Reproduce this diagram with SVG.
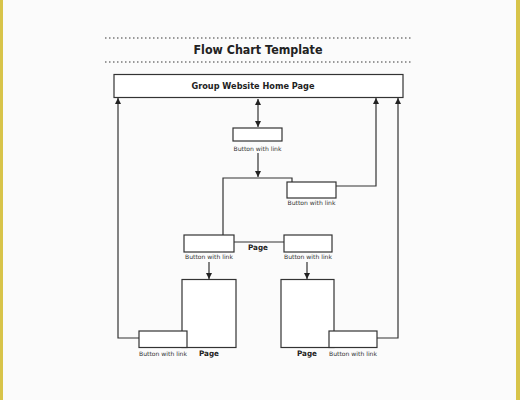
<svg xmlns="http://www.w3.org/2000/svg" width="520" height="400" viewBox="0 0 520 400">
<defs>
<marker id="ah" markerUnits="userSpaceOnUse" markerWidth="6" markerHeight="6" refX="6" refY="3" orient="auto-start-reverse"><path d="M0,0 L6,3 L0,6 z" fill="#222"/></marker>
<style>
.box{fill:#fff;stroke:#333;stroke-width:1.2}
.ln{fill:none;stroke:#333;stroke-width:1.2}
.dot{stroke:#999;stroke-width:2;stroke-dasharray:1.5 2.5}
.t{font-family:"DejaVu Sans","Liberation Sans",sans-serif;font-weight:bold;fill:#222;text-anchor:middle}
.s{font-family:"DejaVu Sans","Liberation Sans",sans-serif;font-size:6px;fill:#333;text-anchor:middle}
</style>
</defs>
<rect x="0" y="0" width="520" height="400" fill="#fbfbfb"/>
<rect x="0" y="0" width="3" height="400" fill="#d8c44a"/>
<rect x="516" y="0" width="4" height="400" fill="#d8c44a"/>
<g id="title">
<line class="dot" x1="105" y1="38" x2="413" y2="38"/>
<line class="dot" x1="105" y1="62" x2="413" y2="62"/>
<text class="t" x="258" y="54" font-size="13" textLength="129" lengthAdjust="spacingAndGlyphs">Flow Chart Template</text>
</g>
<g id="connectors">
<line class="ln" x1="258" y1="99" x2="258" y2="127" marker-start="url(#ah)" marker-end="url(#ah)"/>
<line class="ln" x1="258" y1="153" x2="258" y2="177" marker-end="url(#ah)"/>
<path class="ln" d="M223,235 V178 H292 V182"/>
<path class="ln" d="M336,186 H376 V98" marker-end="url(#ah)"/>
<line class="ln" x1="234" y1="242" x2="284" y2="242"/>
<line class="ln" x1="209" y1="262" x2="209" y2="279" marker-end="url(#ah)"/>
<line class="ln" x1="307" y1="262" x2="307" y2="279" marker-end="url(#ah)"/>
<path class="ln" d="M139,338 H118 V98" marker-end="url(#ah)"/>
<path class="ln" d="M377,338 H398 V98" marker-end="url(#ah)"/>
</g>
<g id="home">
<rect class="box" x="114" y="74.5" width="289" height="23"/>
<text class="t" x="253" y="89" font-size="8.5" textLength="123" lengthAdjust="spacingAndGlyphs">Group Website Home Page</text>
</g>
<g id="button1">
<rect class="box" x="233" y="128" width="49" height="13"/>
<text class="s" x="257.5" y="151" textLength="48" lengthAdjust="spacingAndGlyphs">Button with link</text>
</g>
<g id="button2">
<rect class="box" x="287" y="182" width="49" height="16"/>
<text class="s" x="311.5" y="205" textLength="48" lengthAdjust="spacingAndGlyphs">Button with link</text>
</g>
<g id="button3">
<rect class="box" x="184" y="235" width="50" height="17"/>
<text class="s" x="209" y="259" textLength="48" lengthAdjust="spacingAndGlyphs">Button with link</text>
</g>
<g id="page-mid">
<text class="t" x="258" y="250" font-size="7.5" textLength="20" lengthAdjust="spacingAndGlyphs">Page</text>
</g>
<g id="button4">
<rect class="box" x="284" y="235" width="48" height="17"/>
<text class="s" x="308" y="259" textLength="48" lengthAdjust="spacingAndGlyphs">Button with link</text>
</g>
<g id="page-left">
<rect class="box" x="182" y="279.5" width="54" height="68"/>
<text class="t" x="209" y="356" font-size="7.5" textLength="20" lengthAdjust="spacingAndGlyphs">Page</text>
</g>
<g id="button5">
<rect class="box" x="139" y="331" width="48" height="16.5"/>
<text class="s" x="163" y="356" textLength="48" lengthAdjust="spacingAndGlyphs">Button with link</text>
</g>
<g id="page-right">
<rect class="box" x="281" y="279.5" width="53" height="68"/>
<text class="t" x="307" y="356" font-size="7.5" textLength="20" lengthAdjust="spacingAndGlyphs">Page</text>
</g>
<g id="button6">
<rect class="box" x="329" y="331" width="48" height="16.5"/>
<text class="s" x="353" y="356" textLength="48" lengthAdjust="spacingAndGlyphs">Button with link</text>
</g>
</svg>
